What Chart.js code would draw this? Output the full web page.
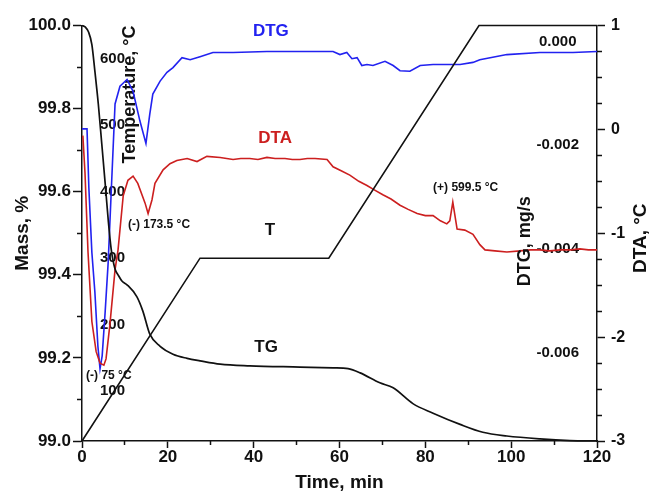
<!DOCTYPE html>
<html>
<head>
<meta charset="utf-8">
<script src="https://cdn.jsdelivr.net/npm/chart.js@4.4.1/dist/chart.umd.min.js"></script>
<style>
  html, body { margin: 0; padding: 0; background: #fff; }
  canvas { display: block; }
</style>
</head>
<body>
<canvas id="thermo" width="652" height="492"></canvas>
<script>
// axis ticks
const timeTicks = [0, 20, 40, 60, 80, 100, 120];
const timeMinorTicks = [10, 30, 50, 70, 90, 110];
const massTicks = [99.0, 99.2, 99.4, 99.6, 99.8, 100.0];
const massMinorTicks = [99.1, 99.3, 99.5, 99.7, 99.9];
const tempTicks = [100, 200, 300, 400, 500, 600];
const dtaTicks = [-3, -2, -1, 0, 1];
const dtaMinorTicks = [-2.75, -2.5, -2.25, -1.75, -1.5, -1.25, -0.75, -0.5, -0.25, 0.25, 0.5, 0.75];
const dtgTicks = [-0.006, -0.004, -0.002, 0];

// TG, mass %
const tgTime = [0, 0.8, 1.5, 2.3, 3.0, 3.8, 4.6, 5.4, 6.1, 6.8, 7.7, 8.4, 9.3, 10.5, 12.8, 14.2, 15.8, 18.2, 21.2, 24.5, 27.5, 32.2, 39.1, 50.8, 58.5, 62.0, 64.8, 69.4, 72.5, 77.1, 81.8, 88.1, 93.4, 99.0, 106.7, 113.7, 120];
const tgMass = [100.0, 99.996, 99.985, 99.954, 99.890, 99.811, 99.716, 99.620, 99.533, 99.462, 99.414, 99.400, 99.385, 99.376, 99.347, 99.312, 99.257, 99.228, 99.209, 99.199, 99.193, 99.185, 99.181, 99.178, 99.176, 99.174, 99.164, 99.140, 99.128, 99.090, 99.067, 99.040, 99.021, 99.012, 99.005, 99.001, 99.000];

// furnace temperature program
const tempTime = [0, 27.5, 57.5, 92.5, 120];
const tempValues = [25, 300, 300, 650, 650];

// DTA, degC
const dtaTime = [0.2, 0.7, 1.4, 2.3, 3.3, 4.2, 5.1, 5.6, 6.5, 7.7, 8.4, 9.6, 10.7, 11.9, 13.0, 14.7, 15.4, 16.3, 17.0, 18.9, 20.5, 22.1, 24.5, 26.8, 29.1, 32.2, 35.2, 37.0, 39.1, 41.0, 43.1, 45.0, 47.3, 49.0, 50.8, 52.5, 54.3, 57.1, 58.5, 60.5, 62.4, 64.5, 66.4, 68.0, 70.1, 72.0, 74.1, 76.0, 78.1, 80.0, 81.8, 83.5, 85.0, 85.7, 86.4, 87.4, 89.2, 91.1, 92.7, 93.9, 96.2, 99.0, 102.1, 104.5, 106.7, 109.0, 111.4, 114.0, 116.0, 118.0, 120];
const dtaValues = [-0.06, -0.42, -1.18, -1.85, -2.14, -2.25, -2.27, -2.21, -1.88, -1.35, -1.16, -0.64, -0.49, -0.45, -0.52, -0.71, -0.81, -0.68, -0.52, -0.39, -0.33, -0.30, -0.28, -0.31, -0.26, -0.27, -0.29, -0.28, -0.28, -0.29, -0.27, -0.28, -0.28, -0.29, -0.29, -0.28, -0.28, -0.29, -0.36, -0.40, -0.44, -0.50, -0.54, -0.58, -0.63, -0.67, -0.73, -0.77, -0.81, -0.83, -0.83, -0.88, -0.91, -0.88, -0.70, -0.96, -0.97, -1.01, -1.11, -1.16, -1.17, -1.18, -1.17, -1.16, -1.16, -1.17, -1.16, -1.16, -1.15, -1.16, -1.16];

// DTG, mg/s
const dtgTime = [0, 1.17, 1.6, 2.3, 3.0, 3.7, 4.2, 4.7, 5.4, 6.1, 6.8, 7.7, 8.85, 10.5, 11.9, 13.5, 14.9, 15.8, 16.5, 18.2, 19.8, 21.2, 23.3, 25.2, 27.5, 30.5, 35.2, 43.1, 50.8, 58.5, 60.1, 61.7, 62.9, 64.1, 65.2, 66.4, 67.8, 70.6, 72.5, 74.1, 76.4, 78.8, 81.8, 88.1, 91.1, 92.7, 99.0, 106.7, 114.4, 120];
const dtgValues = [-0.00149, -0.00149, -0.00263, -0.00387, -0.00463, -0.00567, -0.00611, -0.00586, -0.00501, -0.00406, -0.00272, -0.00101, -0.00067, -0.00054, -0.00077, -0.00134, -0.00177, -0.00120, -0.00082, -0.00057, -0.00040, -0.00031, -0.00012, -0.00016, -0.00010, -0.00002, -0.00002, 0.0, 0.0, 0.0, -0.00006, -0.00002, -0.00014, -0.00012, -0.00027, -0.00025, -0.00027, -0.00019, -0.00027, -0.00037, -0.00038, -0.00027, -0.00025, -0.00025, -0.00021, -0.00016, -0.00006, -0.00002, -0.00002, 0.0];

const FONT = '"Liberation Sans", Arial, Helvetica, sans-serif';
const INK = '#111';
const BLUE = '#2222f0';
const RED = '#cc1f1f';

Chart.defaults.font.family = FONT;
Chart.defaults.color = INK;

const pairs = (xs, ys) => xs.map((x, i) => ({ x: x, y: ys[i] }));
const fixTicks = list => axis => { axis.ticks = list.map(v => ({ value: v })); };

// labels on the curves and the two upright titles at the right
const curveNotes = {
  id: 'curveNotes',
  afterDatasetsDraw(chart) {
    const { ctx, chartArea, scales } = chart;
    const xs = scales.x, ys = scales.yDta;
    const put = (text, t, v, color, size, align) => {
      ctx.fillStyle = color;
      ctx.font = `bold ${size}px ${FONT}`;
      ctx.textAlign = align;
      ctx.textBaseline = 'middle';
      ctx.fillText(text, xs.getPixelForValue(t), ys.getPixelForValue(v));
    };
    const upright = (text, px, dy, size) => {
      ctx.save();
      ctx.translate(px, (chartArea.top + chartArea.bottom) / 2 + dy);
      ctx.rotate(-Math.PI / 2);
      ctx.fillStyle = INK;
      ctx.font = `bold ${size}px ${FONT}`;
      ctx.textAlign = 'center';
      ctx.textBaseline = 'middle';
      ctx.fillText(text, 0, 0);
      ctx.restore();
    };
    ctx.save();
    put('DTG', 44.0, 0.94, BLUE, 17, 'center');
    put('DTA', 45.0, -0.09, RED, 17, 'center');
    put('T', 43.8, -0.97, INK, 17, 'center');
    put('TG', 42.9, -2.10, INK, 17, 'center');
    put('(-) 173.5 °C', 10.7, -0.92, INK, 12, 'left');
    put('(-) 75 °C', 0.95, -2.37, INK, 12, 'left');
    put('(+) 599.5 °C', 81.8, -0.56, INK, 12, 'left');
    upright('DTG, mg/s', chartArea.right - 72, 8, 18);
    upright('DTA, °C', chartArea.right + 44, 5, 19);
    ctx.restore();
  }
};

const tickFont = size => ({ size: size, weight: 'bold', lineHeight: 1 });

new Chart(document.getElementById('thermo'), {
  type: 'line',
  data: {
    datasets: [
      { label: 'T', data: pairs(tempTime, tempValues), yAxisID: 'yTemp', borderColor: INK, borderWidth: 1.6, tension: 0 },
      { label: 'TG', data: pairs(tgTime, tgMass), yAxisID: 'yMass', borderColor: INK, borderWidth: 1.7, cubicInterpolationMode: 'monotone' },
      { label: 'DTA', data: pairs(dtaTime, dtaValues), yAxisID: 'yDta', borderColor: RED, borderWidth: 1.6, tension: 0 },
      { label: 'DTG', data: pairs(dtgTime, dtgValues), yAxisID: 'yDtg', borderColor: BLUE, borderWidth: 1.6, tension: 0 }
    ]
  },
  options: {
    responsive: false,
    animation: false,
    devicePixelRatio: 1,
    layout: { padding: { top: 20, left: 0, right: 0, bottom: 0 } },
    elements: { point: { radius: 0 } },
    datasets: { line: { clip: false } },
    plugins: { legend: { display: false }, tooltip: { enabled: false } },
    scales: {
      x: {
        type: 'linear', position: 'bottom', min: 0, max: 120, weight: 1,
        afterBuildTicks: fixTicks(timeTicks),
        afterFit: s => { s.height = 51; },
        grid: { drawOnChartArea: false, color: INK, tickLength: 7, tickWidth: 1.5 },
        border: { color: INK, width: 1.5 },
        ticks: { font: tickFont(17), padding: 1, autoSkip: false, maxRotation: 0 },
        title: { display: true, text: 'Time, min', font: { size: 19, weight: 'bold', lineHeight: 1 }, padding: 0 }
      },
      xMinor: {
        type: 'linear', position: 'bottom', min: 0, max: 120, weight: 0,
        afterBuildTicks: fixTicks(timeMinorTicks),
        afterFit: s => { s.height = 0; },
        grid: { drawOnChartArea: false, color: INK, tickLength: 4, tickWidth: 1.5 },
        border: { display: false },
        ticks: { display: false }
      },
      yMass: {
        type: 'linear', position: 'left', min: 99, max: 100, weight: 3,
        afterBuildTicks: fixTicks(massTicks),
        afterFit: s => { s.width = 82; },
        grid: { drawOnChartArea: false, color: INK, tickLength: 9, tickWidth: 1.5 },
        border: { color: INK, width: 1.5 },
        ticks: { font: tickFont(17), padding: 2, autoSkip: false, callback: v => v.toFixed(1) },
        title: { display: true, text: 'Mass, %', font: { size: 19, weight: 'bold', lineHeight: 1 }, padding: { top: 13, bottom: 0 } }
      },
      yMassMinor: {
        type: 'linear', position: 'left', min: 99, max: 100, weight: 2,
        afterBuildTicks: fixTicks(massMinorTicks),
        afterFit: s => { s.width = 0; },
        grid: { drawOnChartArea: false, color: INK, tickLength: 5, tickWidth: 1.5 },
        border: { display: false },
        ticks: { display: false }
      },
      yTemp: {
        type: 'linear', position: 'left', min: 25, max: 650, weight: 1,
        afterBuildTicks: fixTicks(tempTicks),
        afterFit: s => { s.width = 0; },
        grid: { display: false },
        border: { display: false },
        ticks: { mirror: true, padding: 18, font: tickFont(15), autoSkip: false },
        title: { display: true, text: 'Temperature, °C', align: 'end', font: { size: 18, weight: 'bold', lineHeight: 1 }, padding: { top: 39, bottom: 0 } }
      },
      yDta: {
        type: 'linear', position: 'right', min: -3, max: 1, weight: 3,
        afterBuildTicks: fixTicks(dtaTicks),
        afterFit: s => { s.width = 55; },
        grid: { drawOnChartArea: false, color: INK, tickLength: 8, tickWidth: 1.5 },
        border: { color: INK, width: 1.5 },
        ticks: { font: tickFont(16), padding: 6, autoSkip: false, callback: v => String(v) }
      },
      yDtaMinor: {
        type: 'linear', position: 'right', min: -3, max: 1, weight: 2,
        afterBuildTicks: fixTicks(dtaMinorTicks),
        afterFit: s => { s.width = 0; },
        grid: { drawOnChartArea: false, color: INK, tickLength: 5, tickWidth: 1.5 },
        border: { display: false },
        ticks: { display: false }
      },
      yDtg: {
        type: 'linear', position: 'right', min: -0.0075, max: 0.0005, weight: 1,
        afterBuildTicks: fixTicks(dtgTicks),
        afterFit: s => { s.width = 0; },
        grid: { display: false },
        border: { display: false },
        ticks: { mirror: true, crossAlign: 'center', padding: -18, labelOffset: -10, font: tickFont(15), autoSkip: false, callback: v => v.toFixed(3) }
      }
    }
  },
  plugins: [curveNotes]
});
</script>
</body>
</html>
